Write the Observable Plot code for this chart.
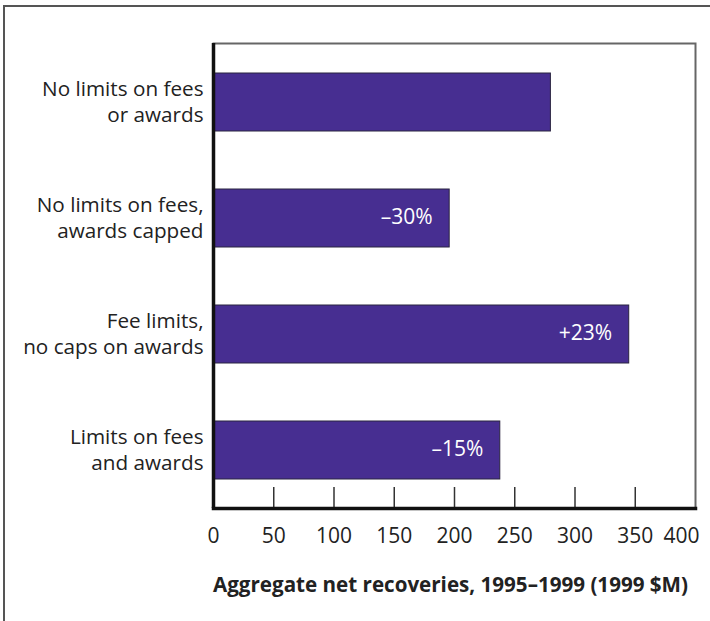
<!DOCTYPE html>
<html>
<head>
<meta charset="utf-8">
<script src="https://cdn.jsdelivr.net/npm/d3@7"></script>
<script src="https://cdn.jsdelivr.net/npm/@observablehq/plot@0.6"></script>
<style>
  html, body { margin: 0; padding: 0; background: #fff; }
  #wrap { position: relative; width: 710px; height: 621px; overflow: hidden; }
  #border { position: absolute; left: 3px; top: 5px; width: 720px; height: 640px;
            border-left: 2px solid #555; border-top: 2px solid #555; }
  #chart { position: absolute; left: 0; top: 0; }
  svg { font-family: "Open Sans", "Noto Sans", sans-serif; }
</style>
</head>
<body>
<div id="wrap"><div id="border"></div><div id="chart"></div></div>
<script>
const categories = [
  "No limits on fees\nor awards",
  "No limits on fees,\nawards capped",
  "Fee limits,\nno caps on awards",
  "Limits on fees\nand awards"
];
const values = [280, 196, 345, 238];
const changeLabels = ["", "–30%", "+23%", "–15%"];
const tickValues = [0, 50, 100, 150, 200, 250, 300, 350, 400];
const innerTicks = [50, 100, 150, 200, 250, 300, 350];
const xTitle = "Aggregate net recoveries, 1995–1999 (1999 $M)";

const data = categories.map((c, i) => ({cat: c, value: values[i], label: changeLabels[i]}));

const W = 710, H = 621;
const mTop = 43, mBottom = 113, mLeft = 213, mRight = 15;
const plotH = H - mTop - mBottom;

const chart = Plot.plot({
  width: W,
  height: H,
  marginTop: mTop,
  marginBottom: mBottom,
  marginLeft: mLeft,
  marginRight: mRight,
  style: {fontFamily: '"Open Sans", "Noto Sans", sans-serif', background: "transparent"},
  x: {domain: [0, 400], axis: null},
  y: {domain: categories, paddingInner: 0.5, paddingOuter: 0.25, axis: null},
  marks: [
    Plot.frame({stroke: "#666", strokeWidth: 2}),
    Plot.barX(data, {x: "value", y: "cat", fill: "#472e91", stroke: "#2a2440", strokeWidth: 1}),
    Plot.ruleX(innerTicks, {x: d => d, insetTop: plotH - 21, stroke: "#333", strokeWidth: 1.5}),
    Plot.frame({anchor: "bottom", stroke: "#111", strokeWidth: 3.5}),
    Plot.ruleX([0], {stroke: "#111", strokeWidth: 3.5}),
    Plot.text(data, {x: "value", y: "cat", text: "label", textAnchor: "end", dx: -17, dy: -1, fill: "white", fontSize: 21}),
    Plot.text(categories, {y: d => d, text: d => d, frameAnchor: "left", textAnchor: "end", dx: -10, dy: -2, fontSize: 20.7, lineHeight: 1.24, fill: "#222"}),
    Plot.text(tickValues.slice(0, -1), {x: d => d, text: d => String(d), frameAnchor: "bottom", dy: 34, fontSize: 21, fill: "#222"}),
    Plot.text(tickValues.slice(-1), {x: d => d, text: d => String(d), frameAnchor: "bottom", dy: 34, dx: 4, textAnchor: "end", fontSize: 21, fill: "#222"}),
    Plot.text([xTitle], {text: d => d, frameAnchor: "bottom", dy: 83, dx: -4, fontSize: 20.6, fontWeight: "bold", fill: "#222"})
  ]
});
document.getElementById("chart").appendChild(chart);
</script>
</body>
</html>
